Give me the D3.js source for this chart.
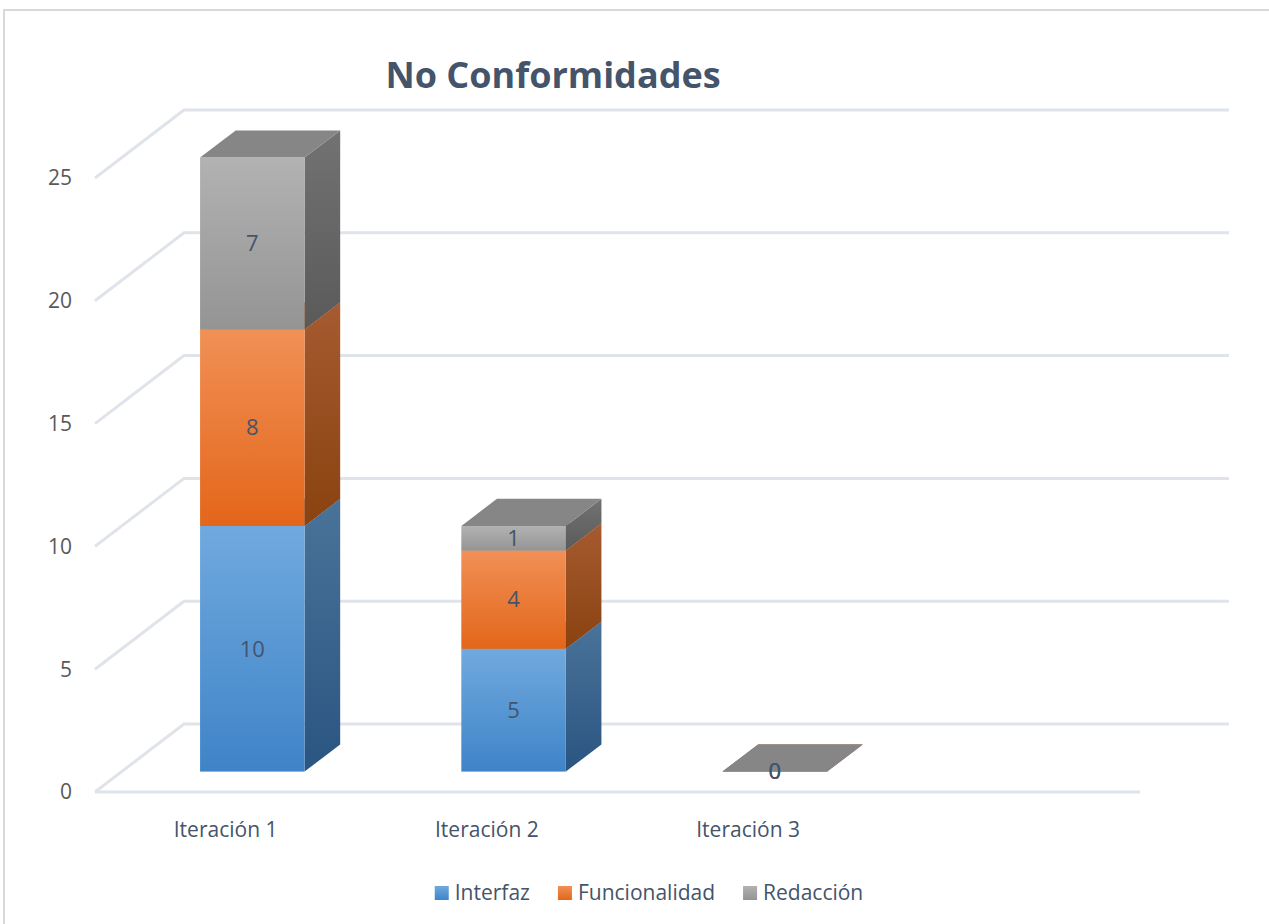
<!DOCTYPE html>
<html>
<head>
<meta charset="utf-8" />
<style>
    body { margin: 0; background: #fff; }
    text { font-family: "Open Sans", sans-serif; }
    .grid line, .grid path { stroke: #dfe3ea; stroke-width: 3; fill: none; }
</style>
</head>
<body>
<svg width="1269" height="924"></svg>
<script src="https://d3js.org/d3.v7.min.js"></script>
<script>
    // data
    var categories = ["Iteración 1", "Iteración 2", "Iteración 3"];
    var seriesNames = ["Interfaz", "Funcionalidad", "Redacción"];
    var interfaz = [10, 5, 0];
    var funcionalidad = [8, 4, 0];
    var redaccion = [7, 1, 0];
    var yTicks = [0, 5, 10, 15, 20, 25];

    var svg = d3.select("svg");

    // colours per series: front gradient (top, bottom), side gradient, top face
    var palette = {
        "Interfaz": { front: ["#70a9de", "#3f84c8"], side: ["#4a7399", "#2a5581"], top: "#5b8fc4" },
        "Funcionalidad": { front: ["#f19056", "#e3661a"], side: ["#a65b30", "#8a4210"], top: "#c46a32" },
        "Redacción": { front: ["#b2b2b2", "#949494"], side: ["#727272", "#5a5a5a"], top: "#868686" }
    };

    var rows = categories.map(function (c, i) {
        return { cat: c, "Interfaz": interfaz[i], "Funcionalidad": funcionalidad[i], "Redacción": redaccion[i] };
    });
    var layers = d3.stack().keys(seriesNames)(rows);

    // plane geometry: front plane x range, and depth offset of back wall
    var x = d3.scaleBand()
        .domain(categories.concat([""]))
        .range([95, 1140]);
    var y = d3.scaleLinear()
        .domain([0, 25])
        .range([792, 178]);
    var depth = { dx: 89, dy: -68 };
    var f0 = 0.3, f1 = 0.7; // bar sits between 30% and 70% of the depth
    var barW = x.step() * 0.4;
    var bdx = (f1 - f0) * depth.dx, bdy = (f1 - f0) * depth.dy;

    // gradients
    var defs = svg.append("defs");
    seriesNames.forEach(function (s, i) {
        ["front", "side"].forEach(function (part) {
            var g = defs.append("linearGradient")
                .attr("id", "g" + i + part)
                .attr("x1", 0).attr("y1", 0).attr("x2", 0).attr("y2", 1);
            g.append("stop").attr("offset", "0%").attr("stop-color", palette[s][part][0]);
            g.append("stop").attr("offset", "100%").attr("stop-color", palette[s][part][1]);
        });
    });

    // outer frame
    svg.append("rect")
        .attr("x", 4).attr("y", 10)
        .attr("width", 1300).attr("height", 1000)
        .attr("fill", "none")
        .attr("stroke", "#d9d9d9")
        .attr("stroke-width", 2);

    // title
    svg.append("text")
        .attr("x", 553)
        .attr("y", 88)
        .attr("text-anchor", "middle")
        .style("font-size", "36px")
        .style("font-weight", "bold")
        .style("fill", "#44546a")
        .text("No Conformidades");

    // walls: back gridlines + side wall diagonals + floor front edge
    var x0 = x.range()[0], x1 = x.range()[1];
    var grid = svg.append("g").attr("class", "grid");
    grid.selectAll("path.tick")
        .data(yTicks)
        .enter().append("path")
        .attr("d", function (d) {
            return "M" + x0 + "," + y(d) +
                "L" + (x0 + depth.dx) + "," + (y(d) + depth.dy) +
                "L" + (x1 + depth.dx) + "," + (y(d) + depth.dy);
        });
    grid.append("line")
        .attr("x1", x0).attr("x2", x1)
        .attr("y1", y(0)).attr("y2", y(0));

    // y tick labels
    svg.append("g")
        .selectAll("text")
        .data(yTicks)
        .enter().append("text")
        .attr("x", 72)
        .attr("y", function (d) { return y(d); })
        .attr("dy", "0.35em")
        .attr("text-anchor", "end")
        .style("font-size", "21px")
        .style("fill", "#595959")
        .text(function (d) { return d; });

    // category labels
    svg.append("g")
        .selectAll("text")
        .data(categories)
        .enter().append("text")
        .attr("x", function (d) { return x(d) + x.bandwidth() / 2; })
        .attr("y", 830)
        .attr("dy", "0.35em")
        .attr("text-anchor", "middle")
        .style("font-size", "21px")
        .style("fill", "#44546a")
        .text(function (d) { return d; });

    // bars, series by series so upper segments cover lower tops
    function left(d) { return x(d.data.cat) + (x.step() - barW) / 2 + f0 * depth.dx; }
    function yy(v) { return y(v) + f0 * depth.dy; }

    layers.forEach(function (layer, i) {
        var g = svg.append("g").attr("class", "series");
        var seg = g.selectAll("g").data(layer).enter().append("g");

        seg.append("path")
            .attr("fill", "url(#g" + i + "side)")
            .attr("d", function (d) {
                var r = left(d) + barW, t = yy(d[1]), b = yy(d[0]);
                return "M" + r + "," + b + "L" + r + "," + t +
                    "L" + (r + bdx) + "," + (t + bdy) + "L" + (r + bdx) + "," + (b + bdy) + "Z";
            });
        seg.append("rect")
            .attr("fill", "url(#g" + i + "front)")
            .attr("x", left)
            .attr("y", function (d) { return yy(d[1]); })
            .attr("width", barW)
            .attr("height", function (d) { return yy(d[0]) - yy(d[1]); });
        seg.append("path")
            .attr("fill", palette[layer.key].top)
            .attr("d", function (d) {
                var l = left(d), t = yy(d[1]);
                return "M" + l + "," + t + "L" + (l + barW) + "," + t +
                    "L" + (l + barW + bdx) + "," + (t + bdy) + "L" + (l + bdx) + "," + (t + bdy) + "Z";
            });
    });

    // data labels
    layers.forEach(function (layer) {
        svg.append("g")
            .selectAll("text")
            .data(layer)
            .enter().append("text")
            .attr("x", function (d) { return left(d) + barW / 2; })
            .attr("y", function (d) { return (yy(d[0]) + yy(d[1])) / 2; })
            .attr("dy", "0.35em")
            .attr("text-anchor", "middle")
            .style("font-size", "22px")
            .style("fill", "#44546a")
            .text(function (d) { return d[1] - d[0]; });
    });

    // legend
    var legend = svg.append("g").attr("class", "legend");
    var items = legend.selectAll("g")
        .data(seriesNames)
        .enter().append("g");
    items.append("rect")
        .attr("width", 14).attr("height", 14)
        .attr("y", -7)
        .attr("fill", function (d, i) { return "url(#g" + i + "front)"; });
    items.append("text")
        .attr("x", 20)
        .attr("dy", "0.35em")
        .style("font-size", "21px")
        .style("fill", "#44546a")
        .text(function (d) { return d; });
    var offs = [], pos = 0;
    items.each(function (d) {
        offs.push(pos);
        pos += 20 + d3.select(this).select("text").node().getComputedTextLength() + 28;
    });
    var total = pos - 28;
    items.attr("transform", function (d, i) { return "translate(" + (649 - total / 2 + offs[i]) + ",893)"; });
</script>
</body>
</html>
